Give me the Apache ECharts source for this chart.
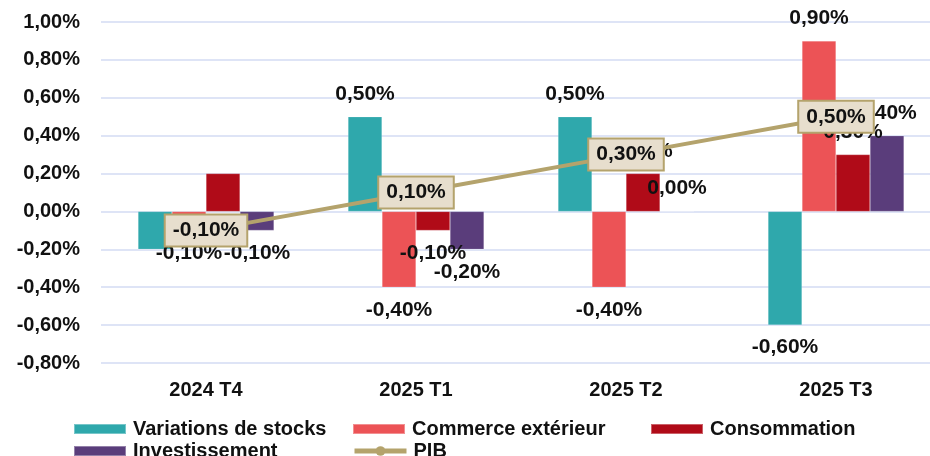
<!DOCTYPE html>
<html>
<head>
<meta charset="utf-8">
<script src="https://cdn.jsdelivr.net/npm/echarts@6/dist/echarts.min.js"></script>
<style>
  html, body { margin: 0; padding: 0; background: #fff; overflow: hidden; }
  #main { width: 941px; height: 456px; }
</style>
</head>
<body>
<div id="main"></div>
<script>
const categories = ['2024 T4', '2025 T1', '2025 T2', '2025 T3']
const stocks = [-0.2, 0.5, 0.5, -0.6]
const commerce = [-0.1, -0.4, -0.4, 0.9]
const conso = [0.2, -0.1, 0.2, 0.3]
const invest = [-0.1, -0.2, 0.0, 0.4]
const pib = [-0.1, 0.1, 0.3, 0.5]
// labels missing in the original chart
const hiddenLabels = { stocks: [0], conso: [0] }

const FONT = '"Liberation Sans", Arial, sans-serif'
const fmt = v => v.toFixed(2).replace('.', ',') + '%'

function barData(values, hidden) {
    return values.map((v, i) => ({
        value: v,
        label: {
            show: !(hidden || []).includes(i),
            position: v < 0 ? 'bottom' : 'top'
        }
    }))
}

function bar(name, values, color, hidden) {
    return {
        name, type: 'bar', barWidth: 34, barGap: 0,
        data: barData(values, hidden),
        itemStyle: { color, borderColor: 'rgba(255,255,255,0.35)', borderWidth: 0.5 },
        label: {
            distance: 12, color: '#111', fontFamily: FONT, fontWeight: 'bold', fontSize: 21,
            formatter: p => fmt(p.value)
        }
    }
}

const legendText = { fontFamily: FONT, fontWeight: 'bold', fontSize: 20, color: '#111', padding: [0, 0, 0, 2] }
const legendAt = (name, left, top) => ({
    data: [name], left, top, itemWidth: 52, itemHeight: 10, icon: 'rect',
    textStyle: legendText
})

// the plot runs a little past the right edge of the 930px window
const chart = echarts.init(document.getElementById('main'))
chart.setOption({
    animation: false,
    backgroundColor: '#fff',
    grid: { left: 101, top: 22, right: 0, bottom: 93 },
    legend: [
        legendAt('Variations de stocks', 68, 414),
        legendAt('Commerce extérieur', 347, 414),
        legendAt('Consommation', 645, 414),
        legendAt('Investissement', 68, 436),
        {
            data: ['PIB'], left: 347, top: 436, itemWidth: 52, itemHeight: 12,
            lineStyle: { width: 5 },
            textStyle: legendText
        }
    ],
    xAxis: {
        type: 'category', data: categories,
        axisLine: { show: false, onZero: false }, axisTick: { show: false },
        axisLabel: { margin: 17, color: '#111', fontFamily: FONT, fontWeight: 'bold', fontSize: 20 }
    },
    yAxis: {
        type: 'value', min: -0.8, max: 1.0, interval: 0.2,
        axisLabel: { formatter: fmt, margin: 21, color: '#111', fontFamily: FONT, fontWeight: 'bold', fontSize: 20 },
        splitLine: { lineStyle: { color: '#d3dbf3', width: 1.5 } }
    },
    series: [
        bar('Variations de stocks', stocks, '#2fa8ac', hiddenLabels.stocks),
        bar('Commerce extérieur', commerce, '#ec5356'),
        bar('Consommation', conso, '#b00b18', hiddenLabels.conso),
        bar('Investissement', invest, '#5a3d7b'),
        {
            name: 'PIB', type: 'line', data: pib, z: 5,
            symbol: 'circle', symbolSize: 10,
            lineStyle: { color: '#b4a36c', width: 4 },
            itemStyle: { color: '#b4a36c' },
            label: {
                show: true, position: 'inside', formatter: p => fmt(p.value),
                backgroundColor: '#e7decd', borderColor: '#b4a36c', borderWidth: 2,
                padding: [5, 7, 4, 7], color: '#111', fontFamily: FONT, fontWeight: 'bold', fontSize: 21
            }
        }
    ]
})
</script>
</body>
</html>
